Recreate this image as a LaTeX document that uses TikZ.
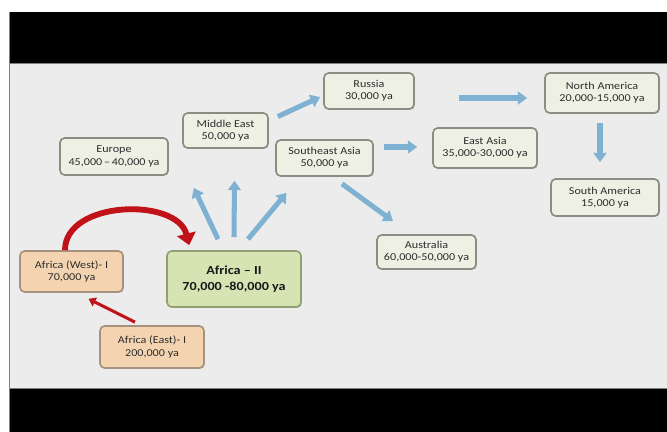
\documentclass[tikz,border=0pt]{standalone}
\usepackage{fontspec}
\setmainfont{Carlito}[FakeStretch=1.15]
\usetikzlibrary{arrows.meta,shadows}

\definecolor{slidegray}{RGB}{236,236,236}
\definecolor{boxfill}{RGB}{238,240,228}
\definecolor{boxline}{RGB}{140,140,130}
\definecolor{tanfill}{RGB}{244,212,176}
\definecolor{tanline}{RGB}{165,145,125}
\definecolor{greenfill}{RGB}{214,227,178}
\definecolor{greenline}{RGB}{145,160,115}
\definecolor{arrblue}{RGB}{127,178,210}
\definecolor{arrred}{RGB}{192,18,24}
\definecolor{txt}{RGB}{45,45,45}

\begin{document}
\begin{tikzpicture}[x=0.03cm,y=-0.03cm,
	box/.style={draw=boxline,line width=1.4pt,rounded corners=4pt,fill=boxfill,
		align=center,inner sep=0pt,text=txt,font=\fontsize{9}{10.5}\selectfont,
		drop shadow={shadow xshift=0.8pt,shadow yshift=-0.8pt,opacity=0.4}},
	tanbox/.style={box,fill=tanfill,draw=tanline},
	greenbox/.style={box,fill=greenfill,draw=greenline,text=black!90,
		font=\bfseries\fontsize{10.5}{14}\selectfont},
	bluearr/.style={draw=arrblue,line width=4.3pt,-{Triangle[width=11pt,length=8pt]}},
	redcurve/.style={draw=arrred,line width=5pt,-{Triangle[width=16pt,length=10pt]}},
	redarr/.style={draw=arrred,line width=2.6pt,-{Triangle[width=8pt,length=6pt]}}]
	\useasboundingbox (0,0) rectangle (667,432);
	\fill[white] (0,0) rectangle (667,432);
	\fill[black] (9,12) rectangle (667,63);
	\fill[slidegray] (9,63) rectangle (667,388);
	\fill[black] (9,388) rectangle (667,432);
	\draw[gray,line width=0.6pt] (9,12) -- (9,432);
	\draw[gray,line width=0.6pt] (9,63) -- (667,63);
	\draw[gray,line width=0.6pt] (9,388) -- (667,388);

	\node[box,minimum width=3.24cm,minimum height=1.11cm] (europe) at (114,156.5) {Europe\\45,000\,--\,40,000 ya};
	\node[box,minimum width=2.55cm,minimum height=1.05cm] (middleeast) at (225.5,130.5) {Middle East\\50,000 ya};
	\node[box,minimum width=2.7cm,minimum height=1.08cm] (russia) at (369,91) {Russia\\30,000 ya};
	\node[box,minimum width=2.91cm,minimum height=1.08cm] (seasia) at (324.5,158) {Southeast Asia\\50,000 ya};
	\node[box,minimum width=3.12cm,minimum height=1.2cm] (eastasia) at (485,148) {East Asia\\35,000-30,000 ya};
	\node[box,minimum width=3.42cm,minimum height=1.2cm] (northamerica) at (602,93) {North America\\20,000-15,000 ya};
	\node[box,minimum width=3.24cm,minimum height=1.11cm] (southamerica) at (605,197.5) {South America\\15,000 ya};
	\node[box,minimum width=2.97cm,minimum height=1.02cm] (australia) at (426.5,252) {Australia\\60,000-50,000 ya};
	\node[greenbox,minimum width=4.02cm,minimum height=1.68cm] (africa2) at (234,279) {Africa -- II\\70,000 -80,000 ya};
	\node[tanbox,minimum width=3.09cm,minimum height=1.23cm] (africaW) at (71.5,271.5) {Africa (West)- I\\70,000 ya};
	\node[tanbox,minimum width=3.12cm,minimum height=1.26cm] (africaE) at (152,347) {Africa (East)- I\\200,000 ya};

	\draw[bluearr] ([shift={(-16,-11)}]africa2.north) -- ([shift={(25,12)}]europe.south east);
	\draw[bluearr] ([shift={(0,-13)}]africa2.north) -- ([shift={(9,32)}]middleeast.south);
	\draw[bluearr] ([shift={(14,-11)}]africa2.north) -- ([shift={(-38,16)}]seasia.south);
	\draw[bluearr] ([shift={(9,-14)}]middleeast.east) -- ([shift={(-3,6)}]russia.west);
	\draw[bluearr] ([shift={(10,-11)}]seasia.east) -- ([shift={(-15,-1)}]eastasia.west);
	\draw[bluearr] ([shift={(44,7)}]russia.east) -- ([shift={(-17,5)}]northamerica.west);
	\draw[bluearr] ([shift={(-2,9)}]northamerica.south) -- ([shift={(-5,-16)}]southamerica.north);
	\draw[bluearr] ([shift={(17.5,7)}]seasia.south) -- ([shift={(-33.5,-13)}]australia.north);
	\draw[redcurve] ([shift={(-6.5,0)}]africaW.north) .. controls +(0,-50) and +(-12,-48) .. ([shift={(23,-5)}]africa2.north west);
	\draw[redarr] ([shift={(-17,-3)}]africaE.north) -- ([shift={(17,6)}]africaW.south);
\end{tikzpicture}
\end{document}
